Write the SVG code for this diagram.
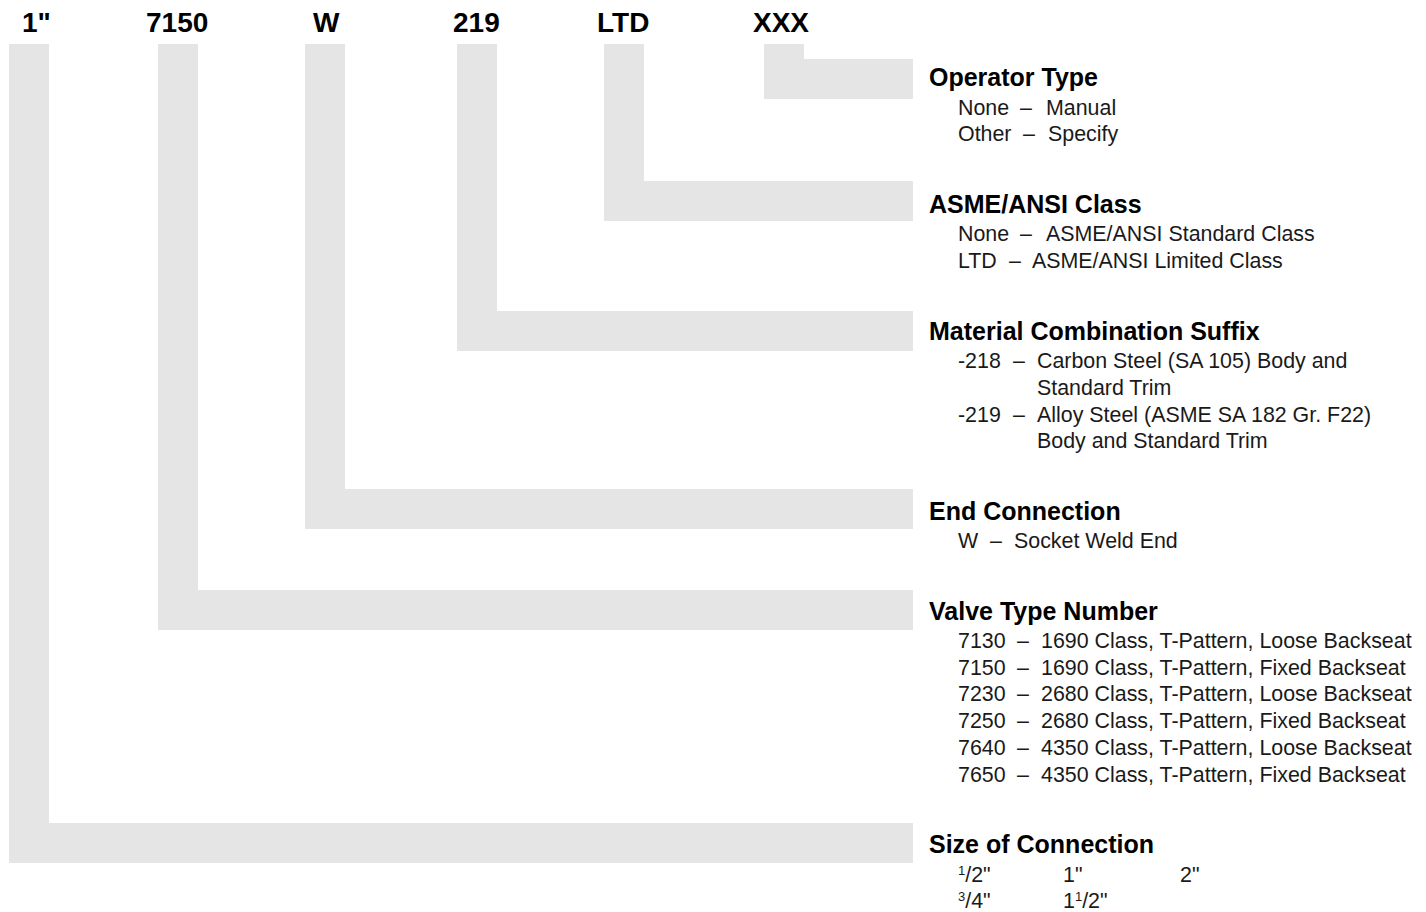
<svg xmlns="http://www.w3.org/2000/svg" width="1426" height="912" viewBox="0 0 1426 912">
<style>
.bar{fill:#e5e5e5;stroke:none}
.code{font-family:"Liberation Sans",Arial,sans-serif;font-weight:bold;font-size:28px;fill:#000}
.title{font-family:"Liberation Sans",Arial,sans-serif;font-weight:bold;font-size:25px;fill:#000}
.body{font-family:"Liberation Sans",Arial,sans-serif;font-size:21.4px;fill:#1a1a1a}
.sup{font-size:13px}
</style>
<rect width="1426" height="912" fill="#fff"/>
<g id="connectors">
<path class="bar" d="M9,44 H49 V823 H913 V863 H9 Z"/>
<path class="bar" d="M158,44 H198 V590 H913 V630 H158 Z"/>
<path class="bar" d="M305,44 H345 V489 H913 V529 H305 Z"/>
<path class="bar" d="M457,44 H497 V311 H913 V351 H457 Z"/>
<path class="bar" d="M604,44 H644 V181 H913 V221 H604 Z"/>
<path class="bar" d="M764,44 H804 V59 H913 V99 H764 Z"/>
</g>
<g id="code-size"><text class="code" x="22" y="32">1"</text></g>
<g id="code-valve"><text class="code" x="146" y="32">7150</text></g>
<g id="code-end"><text class="code" x="313" y="32">W</text></g>
<g id="code-material"><text class="code" x="453" y="32">219</text></g>
<g id="code-class"><text class="code" x="597" y="32">LTD</text></g>
<g id="code-operator"><text class="code" x="753" y="32">XXX</text></g>

<g id="operator-type">
<text class="title" x="929" y="86">Operator Type</text>
<text class="body" y="115"><tspan x="958">None</tspan><tspan x="1020">–</tspan><tspan x="1046">Manual</tspan></text>
<text class="body" y="141"><tspan x="958">Other</tspan><tspan x="1023">–</tspan><tspan x="1048">Specify</tspan></text>
</g>
<g id="asme-class">
<text class="title" x="929" y="212.5">ASME/ANSI Class</text>
<text class="body" y="241"><tspan x="958">None</tspan><tspan x="1020">–</tspan><tspan x="1046">ASME/ANSI Standard Class</tspan></text>
<text class="body" y="267.5"><tspan x="958">LTD</tspan><tspan x="1009">–</tspan><tspan x="1032">ASME/ANSI Limited Class</tspan></text>
</g>
<g id="material-suffix">
<text class="title" x="929" y="340">Material Combination Suffix</text>
<text class="body" y="368"><tspan x="958">-218</tspan><tspan x="1013">–</tspan><tspan x="1037">Carbon Steel (SA 105) Body and</tspan></text>
<text class="body" x="1037" y="395">Standard Trim</text>
<text class="body" y="421.5"><tspan x="958">-219</tspan><tspan x="1013">–</tspan><tspan x="1037">Alloy Steel (ASME SA 182 Gr. F22)</tspan></text>
<text class="body" x="1037" y="448">Body and Standard Trim</text>
</g>
<g id="end-connection">
<text class="title" x="929" y="520">End Connection</text>
<text class="body" y="548"><tspan x="958">W</tspan><tspan x="990">–</tspan><tspan x="1014">Socket Weld End</tspan></text>
</g>
<g id="valve-type">
<text class="title" x="929" y="620">Valve Type Number</text>
<text class="body" y="648"><tspan x="958">7130</tspan><tspan x="1017">–</tspan><tspan x="1041">1690 Class, T-Pattern, Loose Backseat</tspan></text>
<text class="body" y="674.7"><tspan x="958">7150</tspan><tspan x="1017">–</tspan><tspan x="1041">1690 Class, T-Pattern, Fixed Backseat</tspan></text>
<text class="body" y="701.4"><tspan x="958">7230</tspan><tspan x="1017">–</tspan><tspan x="1041">2680 Class, T-Pattern, Loose Backseat</tspan></text>
<text class="body" y="728.1"><tspan x="958">7250</tspan><tspan x="1017">–</tspan><tspan x="1041">2680 Class, T-Pattern, Fixed Backseat</tspan></text>
<text class="body" y="754.8"><tspan x="958">7640</tspan><tspan x="1017">–</tspan><tspan x="1041">4350 Class, T-Pattern, Loose Backseat</tspan></text>
<text class="body" y="781.5"><tspan x="958">7650</tspan><tspan x="1017">–</tspan><tspan x="1041">4350 Class, T-Pattern, Fixed Backseat</tspan></text>
</g>
<g id="size-connection">
<text class="title" x="929" y="853">Size of Connection</text>
<text class="body" x="958" y="882"><tspan class="sup" dy="-7">1</tspan><tspan dy="7">/2"</tspan></text>
<text class="body" x="1063" y="882">1"</text>
<text class="body" x="1180" y="882">2"</text>
<text class="body" x="958" y="908"><tspan class="sup" dy="-7">3</tspan><tspan dy="7">/4"</tspan></text>
<text class="body" x="1063" y="908">1<tspan class="sup" dy="-7">1</tspan><tspan dy="7">/2"</tspan></text>
</g>
</svg>
